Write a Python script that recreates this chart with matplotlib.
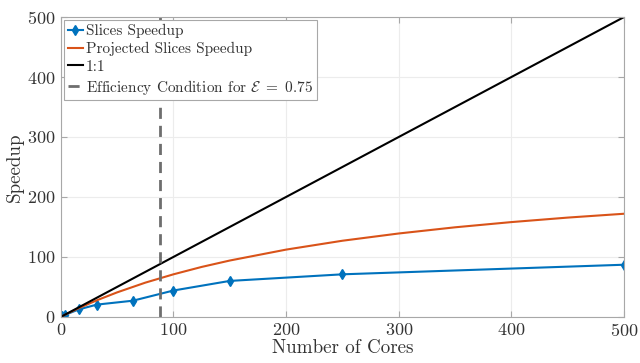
import numpy as np
import matplotlib
matplotlib.use('Agg')
import matplotlib.pyplot as plt

plt.rcParams['font.family'] = 'serif'
plt.rcParams['font.serif'] = ['cmr10']
plt.rcParams['mathtext.fontset'] = 'cm'
plt.rcParams['axes.formatter.use_mathtext'] = True

cores = [1, 4, 16, 32, 64, 100, 150, 250, 500]
speedup = [1, 3.5, 12.5, 20.5, 27, 44, 60, 71, 87]

# projected speedup curve
proj_cores = [0, 1, 8, 16, 32, 50, 75, 100, 125, 150, 200, 250, 300, 350, 400, 450, 500]
proj_speedup = [0, 1, 7.5, 14.6, 27.7, 40.9, 57.1, 71, 83.3, 94, 112.2, 127, 139.1, 149.4, 158.1, 165.6, 172]

ideal_cores = [0, 500]
ideal_speedup = [0, 500]

eff_cores = 88  # efficiency condition for E = 0.75

txt = '#333333'
edge = '#a8a8a8'

fig = plt.figure(figsize=(6.4, 3.63), dpi=100)
ax = fig.add_axes([0.095, 0.127, 0.88, 0.826])

ax.plot(cores, speedup, color='#0072BD', lw=1.5, marker='d', ms=5, label='Slices Speedup')
ax.plot(proj_cores, proj_speedup, color='#D95319', lw=1.5, label='Projected Slices Speedup')
ax.plot(ideal_cores, ideal_speedup, color='k', lw=1.5, label='1:1')
ax.axvline(eff_cores, color='#6e6e6e', lw=2, ls=(0, (4, 2.5)),
           label=r'Efficiency Condition for $\mathcal{E}\ =\ 0.75$')

ax.set_xlim(0, 500)
ax.set_ylim(0, 500)
ax.set_xticks([0, 100, 200, 300, 400, 500])
ax.set_yticks([0, 100, 200, 300, 400, 500])
ax.grid(True, color='#ececec', lw=0.8)
ax.set_axisbelow(True)
for s in ax.spines.values():
    s.set_color(edge)
    s.set_linewidth(0.8)
ax.tick_params(direction='in', length=4, color=edge, labelcolor=txt, labelsize=13,
               top=True, right=True, pad=4)

ax.set_xlabel('Number of Cores', fontsize=13.7, color=txt, labelpad=0)
ax.set_ylabel('Speedup', fontsize=13.7, color=txt, labelpad=2)

leg = ax.legend(loc='upper left', fontsize=11, handlelength=1.0, handletextpad=0.2,
                borderpad=0.25, labelspacing=0.25, borderaxespad=0.2, fancybox=False,
                framealpha=1, edgecolor=edge)
leg.get_frame().set_linewidth(0.8)
for t in leg.get_texts():
    t.set_color(txt)

plt.savefig('out.png', dpi=100)
